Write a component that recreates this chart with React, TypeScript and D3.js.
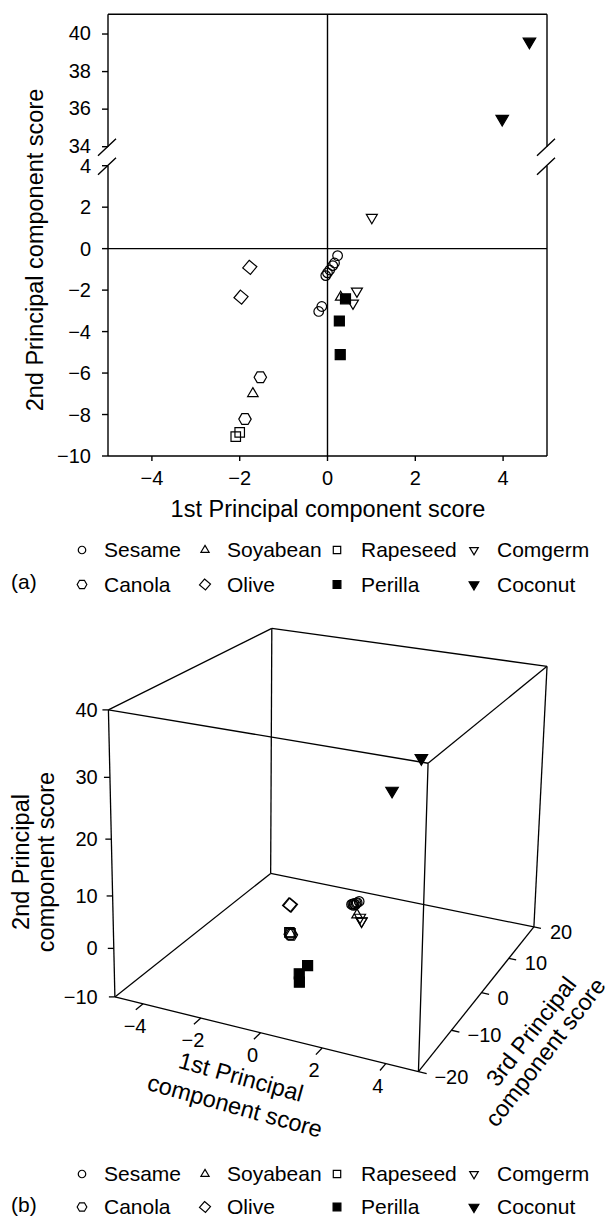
import React from "react";
import * as d3 from "d3";

// ---------- DATA ----------
const oilNames = ["Sesame", "Soyabean", "Rapeseed", "Comgerm", "Canola", "Olive", "Perilla", "Coconut"];
// each entry: [PC1, PC2, PC3]
const sesame = [[0.23, -0.34, 5], [0.16, -0.69, 5], [0.12, -0.82, 5], [0.05, -1.03, 5], [0.0, -1.17, 5], [-0.04, -1.3, 5], [-0.13, -2.79, 7], [-0.2, -3.03, 7]];
const soyabean = [[-1.7, -6.99, 0.7], [0.3, -2.34, 3.8]];
const rapeseed = [[-2.0, -8.86, 3], [-2.09, -9.07, 3.4]];
const comgerm = [[1.01, 1.5, -1.5], [0.67, -2.05, 2], [0.58, -2.63, 2.8]];
const canola = [[-1.53, -6.2, -0.4], [-1.88, -8.22, 2]];
const olive = [[-1.77, -0.9, 0.9], [-1.97, -2.34, 2.7]];
const perilla = [[0.41, -2.42, -11.2], [0.27, -3.49, -12.3], [0.29, -5.11, -12.4]];
const coconut = [[4.6, 39.59, -18], [3.98, 35.48, -20]];

const xTicksA = [-4, -2, 0, 2, 4];
const yTicksUpper = [34, 36, 38, 40];
const yTicksLower = [-10, -8, -6, -4, -2, 0, 2, 4];
const xTicksB = [-4, -2, 0, 2, 4];
const yTicksB = [-10, 0, 10, 20, 30, 40];
const zTicksB = [-20, -10, 0, 10, 20];

type Kind = "circle" | "triUp" | "square" | "triDown" | "hexagon" | "diamond";

const series: { name: string; data: number[][]; kind: Kind; filled: boolean; size: number }[] = [
  { name: oilNames[0], data: sesame, kind: "circle", filled: false, size: 9.6 },
  { name: oilNames[1], data: soyabean, kind: "triUp", filled: false, size: 10.5 },
  { name: oilNames[2], data: rapeseed, kind: "square", filled: false, size: 9.5 },
  { name: oilNames[3], data: comgerm, kind: "triDown", filled: false, size: 11 },
  { name: oilNames[4], data: canola, kind: "hexagon", filled: false, size: 12.4 },
  { name: oilNames[5], data: olive, kind: "diamond", filled: false, size: 10 },
  { name: oilNames[6], data: perilla, kind: "square", filled: true, size: 10 },
  { name: oilNames[7], data: coconut, kind: "triDown", filled: true, size: 12.5 },
];

const FONT = "'Liberation Sans', Arial, Helvetica, sans-serif";

function shapePath(kind: Kind, s: number): string {
  switch (kind) {
    case "circle": {
      const r = s / 2;
      return `M${r},0A${r},${r} 0 1,1 ${-r},0A${r},${r} 0 1,1 ${r},0Z`;
    }
    case "triUp": {
      const h = s * 0.85;
      return `M0,${-(h * 2) / 3}L${s / 2},${h / 3}L${-s / 2},${h / 3}Z`;
    }
    case "triDown": {
      const h = s * 0.85;
      return `M0,${(h * 2) / 3}L${s / 2},${-h / 3}L${-s / 2},${-h / 3}Z`;
    }
    case "square": {
      const a = s / 2;
      return `M${-a},${-a}H${a}V${a}H${-a}Z`;
    }
    case "hexagon": {
      const r = s / 2;
      const pts = d3.range(6).map((i) => [r * Math.cos((i * Math.PI) / 3), r * Math.sin((i * Math.PI) / 3)]);
      return "M" + pts.map((p) => p.join(",")).join("L") + "Z";
    }
    case "diamond": {
      const a = s / 2;
      const ang = (40 * Math.PI) / 180;
      const base = [[-a, -a], [a, -a], [a, a], [-a, a]];
      const pts = base.map(([x, y]) => [x * Math.cos(ang) - y * Math.sin(ang), x * Math.sin(ang) + y * Math.cos(ang)]);
      return "M" + pts.map((p) => p.join(",")).join("L") + "Z";
    }
  }
}

function Marker({ kind, filled, size, x, y }: { kind: Kind; filled: boolean; size: number; x: number; y: number }) {
  return (
    <path
      d={shapePath(kind, size)}
      transform={`translate(${x},${y})`}
      fill={filled ? "#000" : "none"}
      stroke="#000"
      strokeWidth={1.2}
    />
  );
}

// ---------- 3D projection (fitted perspective from cube anchor corners) ----------
const cubeAnchors: number[][] = [
  [0, 0, 0, 109.5, 993.3],
  [1, 0, 0, 420.2, 1070.7],
  [1, 0, 1, 532, 929.3],
  [0, 0, 1, 275.6, 875],
  [0, 1, 0, 109.5, 713],
  [1, 1, 0, 431.2, 765],
  [1, 1, 1, 544.9, 663.3],
  [0, 1, 1, 270.5, 627.3],
];
const NX = 330, NY = 850, NS = 300;

function fitProjection(pts: number[][]): number[] {
  const rows: number[][] = [];
  const rhs: number[] = [];
  for (const [X, Y, Z, sx, sy] of pts) {
    const x = (sx - NX) / NS, y = (sy - NY) / NS;
    rows.push([X, Y, Z, 1, 0, 0, 0, 0, -x * X, -x * Y, -x * Z]);
    rhs.push(x);
    rows.push([0, 0, 0, 0, X, Y, Z, 1, -y * X, -y * Y, -y * Z]);
    rhs.push(y);
  }
  const n = 11;
  const M = Array.from({ length: n }, () => new Array(n + 1).fill(0));
  rows.forEach((r, k) => {
    for (let i = 0; i < n; i++) {
      M[i][n] += r[i] * rhs[k];
      for (let j = 0; j < n; j++) M[i][j] += r[i] * r[j];
    }
  });
  for (let c = 0; c < n; c++) {
    let piv = c;
    for (let r = c + 1; r < n; r++) if (Math.abs(M[r][c]) > Math.abs(M[piv][c])) piv = r;
    [M[c], M[piv]] = [M[piv], M[c]];
    for (let r = 0; r < n; r++) {
      if (r === c) continue;
      const f = M[r][c] / M[c][c];
      for (let j = c; j <= n; j++) M[r][j] -= f * M[c][j];
    }
  }
  return M.map((row, i) => row[n] / row[i]);
}
const P = fitProjection(cubeAnchors);

const u3 = d3.scaleLinear().domain([-5, 5]).range([0, 1]);
const v3 = d3.scaleLinear().domain([-10, 40]).range([0, 1]);
const w3 = d3.scaleLinear().domain([-20, 20]).range([0, 1]);
const vWarp = (v: number) => v / (1.17 - 0.17 * v);

function project(x: number, y: number, z: number): [number, number] {
  const X = u3(x), Y = vWarp(v3(y)), Z = w3(z);
  const d = P[8] * X + P[9] * Y + P[10] * Z + 1;
  const px = (P[0] * X + P[1] * Y + P[2] * Z + P[3]) / d;
  const py = (P[4] * X + P[5] * Y + P[6] * Z + P[7]) / d;
  return [px * NS + NX, py * NS + NY];
}

// ---------- Panel (a) scales ----------
const xA = d3.scaleLinear().domain([-5, 5]).range([108, 547]);
const yLow = d3.scaleLinear().domain([-10, 4]).range([456, 165.7]);
const yUp = d3.scaleLinear().domain([34, 41.05]).range([146.7, 14.3]);
const yA = (v: number) => (v >= 20 ? yUp(v) : yLow(v));

const legendCols = [82, 205, 337, 474];
const legendTextCols = [104, 227, 361, 497];

function Legend({ top, gap, label }: { top: number; gap: number; label: string }) {
  const rows = [series.slice(0, 4), series.slice(4, 8)];
  return (
    <g>
      {rows.map((row, ri) =>
        row.map((s, ci) => {
          const by = top + ri * gap;
          return (
            <g key={s.name}>
              <Marker kind={s.kind} filled={s.filled} size={s.size * 0.78} x={legendCols[ci]} y={by - 7} />
              <text x={legendTextCols[ci]} y={by} fontSize={21} fontFamily={FONT}>
                {s.name}
              </text>
            </g>
          );
        })
      )}
      <text x={11} y={top + gap - 2.5} fontSize={21} fontFamily={FONT}>
        {label}
      </text>
    </g>
  );
}

export default function App() {
  const L = xA.range()[0], R = xA.range()[1];
  const T = yUp.range()[1], B = yLow.range()[0];
  const gapTop = yUp(34), gapBot = yLow(4);
  const slash = (ax: number, y: number) => `M${ax - 10},${y + 9}L${ax + 8},${y - 8}`;

  // cube edges
  const cx = [-5, 5], cy = [-10, 40], cz = [-20, 20];
  const edges: [number[], number[]][] = [];
  for (const y of cy) for (const z of cz) edges.push([[cx[0], y, z], [cx[1], y, z]]);
  for (const x of cx) for (const z of cz) edges.push([[x, cy[0], z], [x, cy[1], z]]);
  for (const x of cx) for (const y of cy) edges.push([[x, y, cz[0]], [x, y, cz[1]]]);

  return (
    <svg width={613} height={1218} style={{ position: "absolute", left: 0, top: 0, background: "#fff" }}>
      <rect width={613} height={1218} fill="#fff" />
      {/* ===== Panel (a) ===== */}
      <g stroke="#000" strokeWidth={1.4} fill="none">
        <line x1={L} x2={R} y1={T} y2={T} />
        <line x1={L} x2={R} y1={B} y2={B} />
        <line x1={L} x2={L} y1={T} y2={gapTop} />
        <line x1={L} x2={L} y1={gapBot} y2={B} />
        <line x1={R} x2={R} y1={T} y2={gapTop} />
        <line x1={R} x2={R} y1={gapBot} y2={B} />
        <path d={slash(L, gapTop) + slash(L, gapBot) + slash(R, gapTop) + slash(R, gapBot)} />
        <line x1={xA(0)} x2={xA(0)} y1={T} y2={B} />
        <line x1={L} x2={R} y1={yLow(0)} y2={yLow(0)} />
        {xTicksA.map((t) => (
          <line key={t} x1={xA(t)} x2={xA(t)} y1={B} y2={B + 5} />
        ))}
        {[...yTicksUpper.map((t) => yUp(t)), ...yTicksLower.map((t) => yLow(t))].map((py, i) => (
          <line key={i} x1={L - 6} x2={L} y1={py} y2={py} />
        ))}
      </g>
      <g fontFamily={FONT} fontSize={20} fill="#000">
        {xTicksA.map((t) => (
          <text key={t} x={xA(t)} y={485} textAnchor="middle">
            {t < 0 ? `\u2212${-t}` : t}
          </text>
        ))}
        {yTicksUpper.map((t) => (
          <text key={"u" + t} x={91} y={yUp(t) + 6} textAnchor="end">
            {t}
          </text>
        ))}
        {yTicksLower.map((t) => (
          <text key={"l" + t} x={91} y={yLow(t) + 7} textAnchor="end">
            {t < 0 ? `\u2212${-t}` : t}
          </text>
        ))}
      </g>
      <text x={328} y={517} textAnchor="middle" fontFamily={FONT} fontSize={23.5}>
        1st Principal component score
      </text>
      <text transform="translate(43,250) rotate(-90)" textAnchor="middle" fontFamily={FONT} fontSize={23.5}>
        2nd Principal component score
      </text>
      {series.map((s) =>
        s.data.map((d, i) => (
          <Marker key={s.name + i} kind={s.kind} filled={s.filled} size={s.size} x={xA(d[0])} y={yA(d[1])} />
        ))
      )}
      <Legend top={557} gap={34.5} label="(a)" />

      {/* ===== Panel (b) ===== */}
      <g stroke="#000" strokeWidth={1.3} fill="none">
        {edges.map(([a, b], i) => {
          const p1 = project(a[0], a[1], a[2]);
          const p2 = project(b[0], b[1], b[2]);
          return <line key={i} x1={p1[0]} y1={p1[1]} x2={p2[0]} y2={p2[1]} />;
        })}
        {yTicksB.map((t) => {
          const p = project(-5, t, -20);
          return <line key={"y" + t} x1={p[0] - 6} x2={p[0]} y1={p[1]} y2={p[1]} />;
        })}
        {xTicksB.map((t) => {
          const p = project(t, -10, -20);
          const q = project(t, -10, -21.6);
          return <line key={"x" + t} x1={p[0]} x2={q[0]} y1={p[1]} y2={q[1]} />;
        })}
        {zTicksB.map((t) => {
          const p = project(5, -10, t);
          const q = project(5.25, -10, t);
          return <line key={"z" + t} x1={p[0]} x2={q[0]} y1={p[1]} y2={q[1]} />;
        })}
      </g>
      <g fontFamily={FONT} fontSize={20} fill="#000">
        {yTicksB.map((t) => {
          const p = project(-5, t, -20);
          return (
            <text key={"y" + t} x={97.7} y={p[1] + 7} textAnchor="end">
              {t < 0 ? `\u2212${-t}` : t}
            </text>
          );
        })}
        {xTicksB.map((t) => {
          const p = project(t, -10, -20);
          return (
            <text key={"x" + t} x={p[0] - 8} y={p[1] + 29} textAnchor="middle">
              {t < 0 ? `\u2212${-t}` : t}
            </text>
          );
        })}
        {zTicksB.map((t) => {
          const p = project(5, -10, t);
          return (
            <text key={"z" + t} x={p[0] + 16} y={p[1] + 12} textAnchor="start">
              {t < 0 ? `\u2212${-t}` : t}
            </text>
          );
        })}
      </g>
      <g fontFamily={FONT} fontSize={23.5} fill="#000" textAnchor="middle">
        <text transform="translate(29,862) rotate(-90)">2nd Principal</text>
        <text transform="translate(54,862) rotate(-90)">component score</text>
        <text transform="translate(241,1077) rotate(15.5)" y={8}>1st Principal</text>
        <text transform="translate(235,1106) rotate(15.5)" y={8}>component score</text>
        <text transform="translate(532,1032) rotate(-52.3)" y={7}>3rd Principal</text>
        <text transform="translate(546,1053) rotate(-52.3)" y={7}>component score</text>
      </g>
      {series.map((s) =>
        s.data.map((d, i) => {
          const p = project(d[0], d[1], d[2]);
          return <Marker key={"b" + s.name + i} kind={s.kind} filled={s.filled} size={s.size} x={p[0]} y={p[1]} />;
        })
      )}
      <Legend top={1181} gap={33} label="(b)" />
    </svg>
  );
}
